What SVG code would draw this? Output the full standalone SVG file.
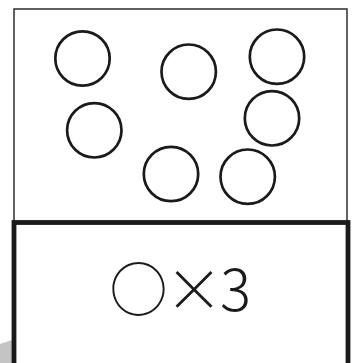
<svg xmlns="http://www.w3.org/2000/svg" width="354" height="363" viewBox="0 0 354 363">
<style>
.c{fill:none;stroke:#1a1a1a;stroke-width:2.7}
.t{font-family:"Noto Sans CJK JP","Noto Sans",sans-serif;font-size:58px;fill:#1a1a1a;font-weight:300}
</style>
<rect width="354" height="363" fill="#fff"/>
<polygon points="0,344 12,340 12,363 0,363" fill="#c4c4c4"/>
<polygon points="16,353 22,351 22,363 16,363" fill="#c4c4c4"/>
<g id="top-box">
<rect x="14" y="9" width="333" height="215" fill="none" stroke="#3a3a3a" stroke-width="1.6"/>
</g>
<g id="circles">
<circle class="c" cx="82.5" cy="58.5" r="27.2"/>
<circle class="c" cx="188.7" cy="71.7" r="27.2"/>
<circle class="c" cx="277" cy="56.7" r="27.2"/>
<circle class="c" cx="94.3" cy="130.3" r="27.2"/>
<circle class="c" cx="272" cy="118.3" r="27.2"/>
<circle class="c" cx="171" cy="174" r="27.2"/>
<circle class="c" cx="247.7" cy="176.7" r="27.2"/>
</g>
<g id="bottom-box">
<rect x="14" y="222.5" width="334" height="160" fill="#fff" stroke="#1a1a1a" stroke-width="4.8"/>
<text class="t" x="109.5 165 220" y="311">○×3</text>
</g>
</svg>
